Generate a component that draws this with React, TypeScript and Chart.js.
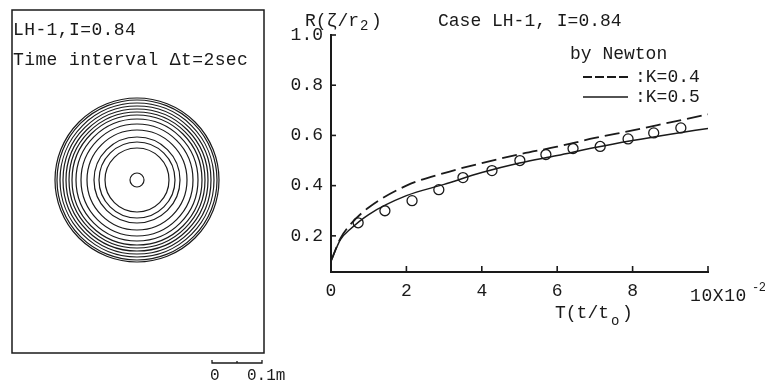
import React, { useEffect, useRef } from 'react';
import { Chart, registerables } from 'chart.js';

Chart.register(...registerables);

const FONT = '"Liberation Mono", "DejaVu Sans Mono", monospace';
const INK = '#1a1a1a';

// Observed ring radii R(ζ/r2) vs nondimensional time T (x 10^-2)
const timeObs = [0.72, 1.43, 2.15, 2.86, 3.5, 4.27, 5.01, 5.7, 6.42, 7.14, 7.88, 8.56, 9.28];
const radiusObs = [0.252, 0.3, 0.34, 0.384, 0.432, 0.46, 0.5, 0.524, 0.548, 0.556, 0.586, 0.61, 0.63];

// Newton's computed curves
const timeCalc = [0, 0.25, 0.5, 1, 2, 3, 4, 5, 6, 7, 8, 9, 10];
const radiusK04 = [0.1, 0.19, 0.243, 0.313, 0.4, 0.45, 0.49, 0.525, 0.555, 0.59, 0.62, 0.652, 0.684];
const radiusK05 = [0.1, 0.185, 0.225, 0.285, 0.36, 0.405, 0.452, 0.49, 0.52, 0.552, 0.58, 0.605, 0.628];

const xTicks = [0, 2, 4, 6, 8, 10];
const yTicks = [0.2, 0.4, 0.6, 0.8, 1.0];

// Ring radii (m) of the spreading front, every 2 sec
const ringRadii = [0.014, 0.064, 0.076, 0.086, 0.1, 0.112, 0.122, 0.13, 0.136, 0.142, 0.148, 0.154, 0.16, 0.164];

function text(ctx: CanvasRenderingContext2D, s: string, x: number, y: number, size = 18, spacing = 0) {
  ctx.save();
  ctx.font = `${size}px ${FONT}`;
  (ctx as any).letterSpacing = `${spacing}px`;
  ctx.fillStyle = INK;
  ctx.textAlign = 'left';
  ctx.textBaseline = 'alphabetic';
  ctx.fillText(s, x, y);
  ctx.restore();
}

const rightPlugin = {
  id: 'rightAnnot',
  afterDraw(chart: any) {
    const ctx: CanvasRenderingContext2D = chart.ctx;
    const xs = chart.scales.x;
    const ys = chart.scales.y;
    const { left: L, top: T, bottom: B } = chart.chartArea;
    ctx.save();
    ctx.strokeStyle = INK;
    ctx.lineWidth = 1.6;
    // inward tick marks
    yTicks.forEach((v) => {
      const p = ys.getPixelForValue(v);
      ctx.beginPath();
      ctx.moveTo(L, p);
      ctx.lineTo(L + 5, p);
      ctx.stroke();
    });
    xTicks.forEach((v) => {
      if (v === 0) return;
      const p = xs.getPixelForValue(v);
      ctx.beginPath();
      ctx.moveTo(p, B);
      ctx.lineTo(p, B - 6);
      ctx.stroke();
    });
    ctx.restore();

    // y-axis title R(ζ/r2)
    text(ctx, 'R(ζ/r', L - 26, T - 9);
    text(ctx, '2', L + 29, T - 5, 14);
    text(ctx, ')', L + 40, T - 9);
    // chart title
    text(ctx, 'Case LH-1, I=0.84', L + 107, T - 9);
    // legend
    text(ctx, 'by Newton', L + 239, T + 24);
    const ds = chart.data.datasets;
    const rows = [
      { d: ds[0], y: T + 42, dash: [9, 3] },
      { d: ds[1], y: T + 62, dash: [] },
    ];
    rows.forEach((r) => {
      ctx.save();
      ctx.strokeStyle = r.d.borderColor;
      ctx.lineWidth = r.d.borderWidth;
      ctx.setLineDash(r.dash);
      ctx.beginPath();
      ctx.moveTo(L + 252, r.y);
      ctx.lineTo(L + 297, r.y);
      ctx.stroke();
      ctx.restore();
      text(ctx, ':' + r.d.label, L + 304, r.y + 5);
    });
    // x-axis end label 10X10^-2
    const p10 = xs.getPixelForValue(10);
    text(ctx, '10X10', p10 - 18, B + 29, 18, 0.6);
    text(ctx, '-2', p10 + 44, B + 19, 12, -0.5);
    // x-axis title T(t/to)
    text(ctx, 'T(t/t', L + 224, B + 46);
    text(ctx, 'o', L + 280, B + 53, 14);
    text(ctx, ')', L + 291, B + 46);
  },
};

const leftPlugin = {
  id: 'leftAnnot',
  afterDraw(chart: any) {
    const ctx: CanvasRenderingContext2D = chart.ctx;
    const { left, top, right, bottom } = chart.chartArea;
    const xs = chart.scales.x;
    ctx.save();
    ctx.strokeStyle = INK;
    ctx.lineWidth = 1.5;
    ctx.strokeRect(left, top, right - left, bottom - top);
    // scale bar 0 .. 0.1 m
    const a = xs.getPixelForValue(0.15);
    const b = xs.getPixelForValue(0.25);
    const m = xs.getPixelForValue(0.2);
    const y = bottom + 10;
    ctx.lineWidth = 1.3;
    ctx.beginPath();
    ctx.moveTo(a, y - 3);
    ctx.lineTo(a, y);
    ctx.lineTo(b, y);
    ctx.lineTo(b, y - 3);
    ctx.moveTo(m, y);
    ctx.lineTo(m, y - 2);
    ctx.stroke();
    ctx.restore();
    text(ctx, '0', a - 2, bottom + 27, 16);
    text(ctx, '0.1m', b - 15, bottom + 27, 16);
    text(ctx, 'LH-1,I=0.84', left + 1, top + 25, 18, 0.4);
    text(ctx, 'Time interval Δt=2sec', left + 1, top + 55, 18, 0.4);
  },
};

export default function App() {
  const leftRef = useRef<HTMLCanvasElement | null>(null);
  const rightRef = useRef<HTMLCanvasElement | null>(null);

  useEffect(() => {
    const left = new Chart(leftRef.current as HTMLCanvasElement, {
      type: 'scatter',
      data: {
        datasets: [
          {
            label: 'rings',
            data: ringRadii.map((r) => ({ x: 0, y: 0, r })) as any,
            pointRadius: (c: any) => {
              const s = c.chart.scales.x;
              return Math.abs(s.getPixelForValue(c.raw.r) - s.getPixelForValue(0));
            },
            pointBackgroundColor: 'rgba(0,0,0,0)',
            pointBorderColor: INK,
            pointBorderWidth: 1.2,
          } as any,
        ],
      },
      options: {
        animation: false,
        responsive: false,
        events: [],
        layout: { padding: { left: 12, top: 10, right: 36, bottom: 34 } },
        scales: {
          x: { type: 'linear', display: false, min: -0.25, max: 0.254 },
          y: { type: 'linear', display: false, min: -0.346, max: 0.34 },
        },
        plugins: { legend: { display: false }, tooltip: { enabled: false } },
      },
      plugins: [leftPlugin],
    });

    const right = new Chart(rightRef.current as HTMLCanvasElement, {
      type: 'scatter',
      data: {
        datasets: [
          {
            label: 'K=0.4',
            data: timeCalc.map((x, i) => ({ x, y: radiusK04[i] })),
            showLine: true,
            borderColor: INK,
            borderWidth: 1.8,
            borderDash: [15, 6],
            pointRadius: 0,
            cubicInterpolationMode: 'monotone',
            fill: false,
          },
          {
            label: 'K=0.5',
            data: timeCalc.map((x, i) => ({ x, y: radiusK05[i] })),
            showLine: true,
            borderColor: INK,
            borderWidth: 1.5,
            pointRadius: 0,
            cubicInterpolationMode: 'monotone',
            fill: false,
          },
          {
            label: 'observed',
            data: timeObs.map((x, i) => ({ x, y: radiusObs[i] })),
            showLine: false,
            pointRadius: 5,
            pointBackgroundColor: '#ffffff',
            pointBorderColor: INK,
            pointBorderWidth: 1.3,
          },
        ] as any,
      },
      options: {
        animation: false,
        responsive: false,
        events: [],
        layout: { padding: { left: 0, top: 35, right: 57, bottom: 85 } },
        plugins: { legend: { display: false }, tooltip: { enabled: false } },
        scales: {
          x: {
            type: 'linear',
            min: 0,
            max: 10,
            afterBuildTicks: (s: any) => {
              s.ticks = xTicks.map((v) => ({ value: v }));
            },
            afterFit: (s: any) => {
              s.height = 30;
            },
            grid: { display: false, drawTicks: false },
            border: { display: true, color: INK, width: 2 },
            ticks: {
              color: INK,
              font: { family: FONT, size: 18 },
              padding: 8,
              maxRotation: 0,
              autoSkip: false,
              callback: (v: any) => (v === 10 ? '' : String(v)),
            },
          },
          y: {
            type: 'linear',
            min: 0.056,
            max: 1.0,
            afterBuildTicks: (s: any) => {
              s.ticks = yTicks.map((v) => ({ value: v }));
            },
            afterFit: (s: any) => {
              s.width = 51;
            },
            grid: { display: false, drawTicks: false },
            border: { display: true, color: INK, width: 2 },
            ticks: {
              color: INK,
              font: { family: FONT, size: 18 },
              padding: 8,
              autoSkip: false,
              callback: (v: any) => Number(v).toFixed(1),
            },
          },
        },
      } as any,
      plugins: [rightPlugin],
    });

    return () => {
      left.destroy();
      right.destroy();
    };
  }, []);

  return (
    <div style={{ position: 'absolute', left: 0, top: 0, width: 765, height: 387, background: '#fff', overflow: 'hidden' }}>
      <canvas ref={leftRef} width={300} height={387} style={{ position: 'absolute', left: 0, top: 0, width: 300, height: 387 }} />
      <canvas ref={rightRef} width={485} height={387} style={{ position: 'absolute', left: 280, top: 0, width: 485, height: 387 }} />
    </div>
  );
}
